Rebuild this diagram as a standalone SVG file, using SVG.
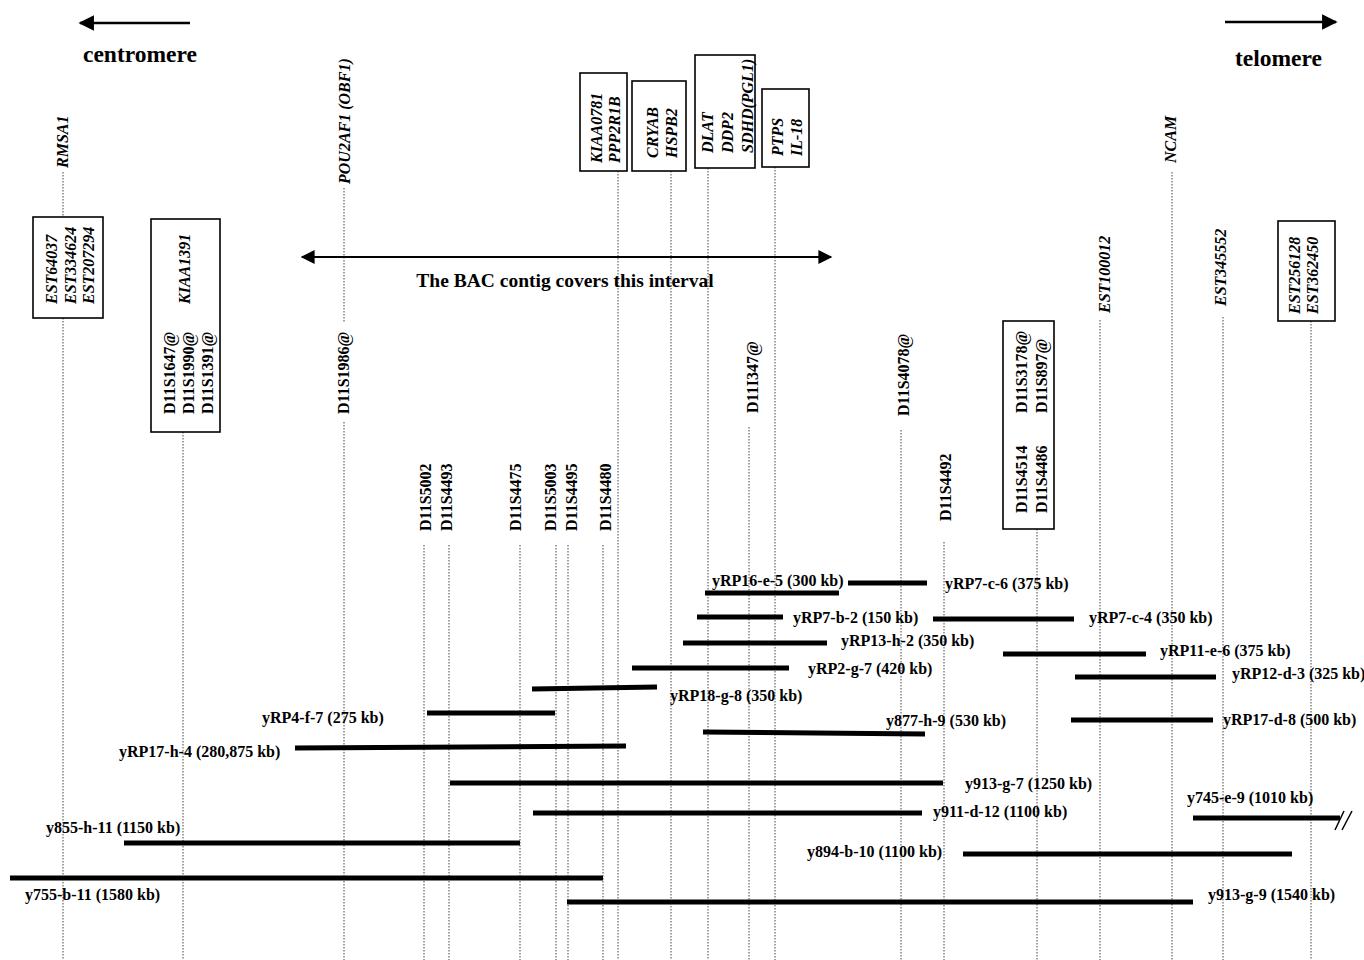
<svg xmlns="http://www.w3.org/2000/svg" width="1364" height="960" viewBox="0 0 1364 960">
<style>
text{font-family:"Liberation Serif","Times New Roman",serif;font-weight:bold;font-size:16px;fill:#000}
.it{font-style:italic}
.big{font-size:23.5px}
.bac{font-size:19.5px}
.dot{stroke:#444;stroke-width:1;stroke-dasharray:1.5 1.5;fill:none}
.bar{stroke:#000;stroke-width:5;fill:none}
.box{fill:#fff;stroke:#000;stroke-width:1.6}
.arr{stroke:#000;stroke-width:2.5;fill:none}
</style>
<defs>
<marker id="ah" viewBox="0 0 10 10" refX="9" refY="5" markerWidth="6.5" markerHeight="6.2" orient="auto-start-reverse" markerUnits="strokeWidth"><path d="M0,0 L10,5 L0,10 Z" fill="#000"/></marker>
<marker id="ah2" viewBox="0 0 10 10" refX="9" refY="5" markerWidth="7.5" markerHeight="7" orient="auto-start-reverse" markerUnits="strokeWidth"><path d="M0,0 L10,5 L0,10 Z" fill="#000"/></marker>
</defs>
<rect width="1364" height="960" fill="#fff"/>

<g id="connectors">
<path class="dot" d="M63,172V217M63,318V960"/>
<path class="dot" d="M183,432V960"/>
<path class="dot" d="M344,188V322M344,422V960"/>
<path class="dot" d="M424,545V960M449,545V960M520,545V960M556,545V960M568,545V960M603,545V960"/>
<path class="dot" d="M618,171V960M671,171V960M708,168V960M775,167V960"/>
<path class="dot" d="M749,427V960M901,430V960M944,542V960M1037,529V960"/>
<path class="dot" d="M1100,320V960M1172,172V960M1223,317V960M1311,321V960"/>
</g>

<g id="orientation">
<line class="arr" x1="190" y1="23" x2="80" y2="23" marker-end="url(#ah)"/>
<text class="big" x="83" y="62">centromere</text>
<line class="arr" x1="1225" y1="22" x2="1336" y2="22" marker-end="url(#ah)"/>
<text class="big" x="1235" y="66">telomere</text>
</g>

<g id="bac-interval">
<line x1="302" y1="257" x2="831" y2="257" stroke="#000" stroke-width="2" marker-start="url(#ah2)" marker-end="url(#ah2)"/>
<text class="bac" x="565" y="287" text-anchor="middle">The BAC contig covers this interval</text>
</g>

<g id="RMSA1"><text class="it" transform="translate(68,168) rotate(-90)">RMSA1</text></g>
<g id="est-box-1">
<rect class="box" x="33" y="217" width="70" height="101"/>
<text class="it" transform="translate(57,304) rotate(-90)">EST64037</text>
<text class="it" transform="translate(76,304) rotate(-90)">EST334624</text>
<text class="it" transform="translate(94,304) rotate(-90)">EST207294</text>
</g>
<g id="kiaa1391-box">
<rect class="box" x="151" y="219" width="69" height="213"/>
<text class="it" transform="translate(190,304) rotate(-90)">KIAA1391</text>
<text transform="translate(175,414) rotate(-90)">D11S1647@</text>
<text transform="translate(194,414) rotate(-90)">D11S1990@</text>
<text transform="translate(213,414) rotate(-90)">D11S1391@</text>
</g>
<g id="POU2AF1"><text class="it" transform="translate(350,184) rotate(-90)">POU2AF1 (OBF1)</text></g>
<g id="D11S1986"><text transform="translate(349,414) rotate(-90)">D11S1986@</text></g>
<g id="D11S5002"><text transform="translate(431,531) rotate(-90)">D11S5002</text></g>
<g id="D11S4493"><text transform="translate(452,531) rotate(-90)">D11S4493</text></g>
<g id="D11S4475"><text transform="translate(521,531) rotate(-90)">D11S4475</text></g>
<g id="D11S5003"><text transform="translate(556,531) rotate(-90)">D11S5003</text></g>
<g id="D11S4495"><text transform="translate(577,531) rotate(-90)">D11S4495</text></g>
<g id="D11S4480"><text transform="translate(611,531) rotate(-90)">D11S4480</text></g>

<g id="kiaa0781-box">
<rect class="box" x="580" y="73" width="47" height="98"/>
<text class="it" transform="translate(602,163) rotate(-90)">KIAA0781</text>
<text class="it" transform="translate(620,163) rotate(-90)">PPP2R1B</text>
</g>
<g id="cryab-box">
<rect class="box" x="632" y="81" width="54" height="90"/>
<text class="it" transform="translate(658,158) rotate(-90)">CRYAB</text>
<text class="it" transform="translate(677,158) rotate(-90)">HSPB2</text>
</g>
<g id="dlat-box">
<rect class="box" x="695" y="55" width="60" height="113"/>
<text class="it" transform="translate(713,153) rotate(-90)">DLAT</text>
<text class="it" transform="translate(733,153) rotate(-90)">DDP2</text>
<text class="it" transform="translate(753,153) rotate(-90)">SDHD(PGL1)</text>
</g>
<g id="ptps-box">
<rect class="box" x="762" y="89" width="47" height="78"/>
<text class="it" transform="translate(783,156) rotate(-90)">PTPS</text>
<text class="it" transform="translate(802,156) rotate(-90)">IL-18</text>
</g>

<g id="D11I347"><text transform="translate(758,413) rotate(-90)">D11I347@</text></g>
<g id="D11S4078"><text transform="translate(909,416) rotate(-90)">D11S4078@</text></g>
<g id="D11S4492"><text transform="translate(951,521) rotate(-90)">D11S4492</text></g>
<g id="d11s4514-box">
<rect class="box" x="1003" y="321" width="51" height="208"/>
<text transform="translate(1027,413) rotate(-90)">D11S3178@</text>
<text transform="translate(1047,413) rotate(-90)">D11S897@</text>
<text transform="translate(1027,513) rotate(-90)">D11S4514</text>
<text transform="translate(1047,513) rotate(-90)">D11S4486</text>
</g>
<g id="EST100012"><text class="it" transform="translate(1110,313) rotate(-90)">EST100012</text></g>
<g id="NCAM"><text class="it" transform="translate(1176,163) rotate(-90)">NCAM</text></g>
<g id="EST345552"><text class="it" transform="translate(1226,306) rotate(-90)">EST345552</text></g>
<g id="est-box-2">
<rect class="box" x="1278" y="221" width="57" height="100"/>
<text class="it" transform="translate(1300,314) rotate(-90)">EST256128</text>
<text class="it" transform="translate(1318,314) rotate(-90)">EST362450</text>
</g>

<g id="yRP16-e-5"><line class="bar" x1="705" y1="593" x2="839" y2="593"/><text x="712" y="586">yRP16-e-5 (300 kb)</text></g>
<g id="yRP7-c-6"><line class="bar" x1="848" y1="583" x2="927" y2="583"/><text x="945" y="589">yRP7-c-6 (375 kb)</text></g>
<g id="yRP7-b-2"><line class="bar" x1="697" y1="617" x2="783" y2="617"/><text x="793" y="623">yRP7-b-2 (150 kb)</text></g>
<g id="yRP7-c-4"><line class="bar" x1="933" y1="619" x2="1074" y2="619"/><text x="1089" y="623">yRP7-c-4 (350 kb)</text></g>
<g id="yRP13-h-2"><line class="bar" x1="683" y1="643" x2="827" y2="643"/><text x="841" y="646">yRP13-h-2 (350 kb)</text></g>
<g id="yRP11-e-6"><line class="bar" x1="1003" y1="654" x2="1146" y2="654"/><text x="1160" y="656">yRP11-e-6 (375 kb)</text></g>
<g id="yRP2-g-7"><line class="bar" x1="632" y1="668" x2="789" y2="668"/><text x="808" y="674">yRP2-g-7 (420 kb)</text></g>
<g id="yRP12-d-3"><line class="bar" x1="1075" y1="677" x2="1216" y2="677"/><text x="1232" y="679">yRP12-d-3 (325 kb)</text></g>
<g id="yRP18-g-8"><line class="bar" x1="532" y1="689" x2="657" y2="687"/><text x="670" y="701">yRP18-g-8 (350 kb)</text></g>
<g id="yRP4-f-7"><line class="bar" x1="427" y1="713" x2="555" y2="713"/><text x="262" y="723">yRP4-f-7 (275 kb)</text></g>
<g id="y877-h-9"><line class="bar" x1="703" y1="732" x2="925" y2="734"/><text x="886" y="726">y877-h-9 (530 kb)</text></g>
<g id="yRP17-d-8"><line class="bar" x1="1071" y1="720" x2="1213" y2="720"/><text x="1223" y="725">yRP17-d-8 (500 kb)</text></g>
<g id="yRP17-h-4"><line class="bar" x1="295" y1="748" x2="626" y2="746"/><text x="119" y="757">yRP17-h-4 (280,875 kb)</text></g>
<g id="y913-g-7"><line class="bar" x1="450" y1="783" x2="943" y2="783"/><text x="965" y="789">y913-g-7 (1250 kb)</text></g>
<g id="y745-e-9"><line class="bar" x1="1193" y1="818" x2="1340" y2="818"/><path d="M1335,830L1344,811M1342,830L1352,811" stroke="#000" stroke-width="1.5" fill="none"/><text x="1187" y="803">y745-e-9 (1010 kb)</text></g>
<g id="y911-d-12"><line class="bar" x1="533" y1="813" x2="922" y2="813"/><text x="933" y="817">y911-d-12 (1100 kb)</text></g>
<g id="y855-h-11"><line class="bar" x1="124" y1="843" x2="520" y2="843"/><text x="46" y="833">y855-h-11 (1150 kb)</text></g>
<g id="y894-b-10"><line class="bar" x1="963" y1="854" x2="1292" y2="854"/><text x="807" y="857">y894-b-10 (1100 kb)</text></g>
<g id="y755-b-11"><line class="bar" x1="10" y1="878" x2="603" y2="878"/><text x="25" y="900">y755-b-11 (1580 kb)</text></g>
<g id="y913-g-9"><line class="bar" x1="567" y1="902" x2="1193" y2="902"/><text x="1208" y="900">y913-g-9 (1540 kb)</text></g>
</svg>
